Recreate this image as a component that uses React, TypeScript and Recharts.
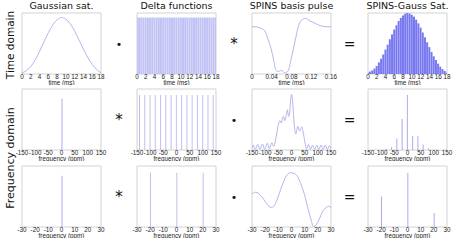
import { ComposedChart, Line, Bar, XAxis, YAxis, ReferenceArea } from 'recharts'

// tick labels
const timeTicks = [0, 2, 4, 6, 8, 10, 12, 14, 16, 18]
const spinsTimeTicks = [0, 0.04, 0.08, 0.12, 0.16]
const wideFreqTicks = [-150, -100, -50, 0, 50, 100, 150]
const narrowFreqTicks = [-30, -20, -10, 0, 10, 20, 30]

// row 1: time domain
const gaussTime = [0, 1, 2, 3, 4, 5, 6, 7, 8, 9, 10, 11, 12, 13, 14, 15, 16, 17, 18]
const gaussAmp = [0.02, 0.06, 0.13, 0.25, 0.4, 0.57, 0.73, 0.87, 0.96, 1.0, 0.97, 0.89, 0.76, 0.6, 0.44, 0.29, 0.17, 0.08, 0.02]

const deltaTime = [
  0, 0.5, 1, 1.5, 2, 2.5, 3, 3.5, 4, 4.5, 5, 5.5, 6, 6.5, 7, 7.5, 8, 8.5, 9,
  9.5, 10, 10.5, 11, 11.5, 12, 12.5, 13, 13.5, 14, 14.5, 15, 15.5, 16, 16.5, 17, 17.5, 18,
]
const deltaAmp = [
  1, 1, 1, 1, 1, 1, 1, 1, 1, 1, 1, 1, 1, 1, 1, 1, 1, 1, 1,
  1, 1, 1, 1, 1, 1, 1, 1, 1, 1, 1, 1, 1, 1, 1, 1, 1, 1,
]

const spinsTime = [
  0, 0.008, 0.016, 0.026, 0.032, 0.039, 0.044, 0.048, 0.053, 0.056, 0.06, 0.066,
  0.073, 0.08, 0.087, 0.094, 0.1, 0.109, 0.117, 0.127, 0.138, 0.151, 0.16,
]
const spinsAmp = [
  0.77, 0.77, 0.75, 0.7, 0.57, 0.39, 0.21, 0.05, 0.02, 0.03, 0.04, 0.0,
  0.03, 0.26, 0.52, 0.78, 0.88, 0.91, 0.87, 0.83, 0.79, 0.77, 0.77,
]

const trainAmp = [
  0.02, 0.04, 0.06, 0.09, 0.13, 0.19, 0.25, 0.32, 0.4, 0.48, 0.57, 0.65, 0.73, 0.8, 0.87, 0.92, 0.96, 0.99, 1.0,
  0.99, 0.97, 0.94, 0.89, 0.83, 0.76, 0.68, 0.6, 0.52, 0.44, 0.36, 0.29, 0.23, 0.17, 0.12, 0.08, 0.05, 0.02,
]

// row 2: frequency domain, wide view
const gaussSpecFreq = [0]
const gaussSpecAmp = [0.84]

const combWideFreq = [-140, -120, -100, -80, -60, -40, -20, 0, 20, 40, 60, 80, 100, 120, 140]
const combWideAmp = [0.9, 0.9, 0.9, 0.9, 0.9, 0.9, 0.9, 0.9, 0.9, 0.9, 0.9, 0.9, 0.9, 0.9, 0.9]

const spinsWideFreq = [
  -150, -145, -138, -128, -120, -110, -102, -92, -84, -75, -68, -61, -55, -48, -44, -39, -34, -30,
  -26, -21, -16, -11, -7, -3, 0, 3, 7, 11, 16, 20, 24, 28, 31, 35, 39, 44, 50, 57,
  65, 72, 80, 88, 96, 104, 112, 120, 128, 136, 144, 150,
]
const spinsWideAmp = [
  0.02, 0.08, 0.01, 0.09, 0.01, 0.1, 0.01, 0.11, 0.02, 0.12, 0.06, 0.15, 0.3, 0.45, 0.48, 0.44, 0.53, 0.55,
  0.48, 0.55, 0.66, 0.55, 0.62, 0.82, 0.91, 0.86, 0.62, 0.4, 0.26, 0.32, 0.39, 0.34, 0.31, 0.35, 0.38, 0.3, 0.15, 0.02,
  0.09, 0.01, 0.08, 0.01, 0.08, 0.01, 0.08, 0.01, 0.08, 0.01, 0.07, 0.02,
]

const trainWideFreq = [-80, -60, -40, -20, 0, 20, 40, 60, 80]
const trainWideAmp = [0.02, 0.05, 0.19, 0.51, 0.9, 0.23, 0.23, 0.09, 0.03]

// row 3: frequency domain, narrow view
const combNarrowFreq = [-20, 0, 20]
const combNarrowAmp = [0.89, 0.89, 0.89]

const spinsNarrowFreq = [
  -30, -27.4, -24.9, -22.3, -19.8, -17.2, -15.2, -13.4, -10.9, -8.3, -5.7, -3.2, -0.6,
  1.9, 4.5, 7, 9.6, 12.1, 14.7, 16.7, 18.5, 21.1, 23.6, 26.2, 28.2, 30,
]
const spinsNarrowAmp = [
  0.54, 0.57, 0.55, 0.49, 0.41, 0.34, 0.32, 0.34, 0.45, 0.61, 0.76, 0.86, 0.89,
  0.88, 0.83, 0.71, 0.55, 0.34, 0.13, 0.01, 0.03, 0.13, 0.25, 0.32, 0.34, 0.32,
]

const trainNarrowFreq = [-20, 0, 20]
const trainNarrowAmp = [0.5, 0.89, 0.23]

const zip = (xs: number[], ys: number[]) => xs.map((x, i) => ({ x, y: ys[i] }))

const LINE = '#acacea'
const FILL = '#7878f0'
const BOX = '#d2d2d2'
const TEXT = '#222'

const COLS = [22, 137, 252, 368]
const ROWS = [13, 89, 166]
const PW = 79
const PH = 61
const PAD = 10

type PanelProps = {
  col: number
  row: number
  data: { x: number; y: number }[]
  kind: 'line' | 'bar'
  xDomain: [number, number]
  yDomain: [number, number]
  ticks: number[]
  xLabel: string
  color?: string
  barSize?: number
}

const Panel = ({ col, row, data, kind, xDomain, yDomain, ticks, xLabel, color = LINE, barSize = 1 }: PanelProps) => (
  <div style={{ position: 'absolute', left: COLS[col] - PAD, top: ROWS[row] - 2 }}>
    <ComposedChart width={PW + PAD * 2} height={PH + 2 + 11} data={data} margin={{ top: 2, right: PAD, bottom: 0, left: PAD }}>
      <XAxis
        type="number"
        dataKey="x"
        domain={xDomain}
        ticks={ticks}
        interval={0}
        allowDataOverflow
        axisLine={false}
        tickLine={false}
        tickSize={0}
        tickMargin={1}
        height={11}
        tick={{ fontSize: 6.3, fill: TEXT, fontFamily: 'Liberation Sans' }}
        label={{ value: xLabel, position: 'insideBottom', offset: 0, fontSize: 6.3, fill: TEXT, fontFamily: 'Liberation Sans' }}
      />
      <YAxis hide type="number" domain={yDomain} allowDataOverflow />
      <ReferenceArea x1={xDomain[0]} x2={xDomain[1]} y1={yDomain[0]} y2={yDomain[1]} fill="none" stroke={BOX} strokeWidth={1} />
      {kind === 'line' ? (
        <Line type="monotone" dataKey="y" stroke={color} strokeWidth={0.9} dot={false} isAnimationActive={false} />
      ) : (
        <Bar dataKey="y" fill={color} barSize={barSize} isAnimationActive={false} />
      )}
    </ComposedChart>
  </div>
)

const Txt = ({ x, y, size, children, rotate = false, family = 'DejaVu Sans' }: any) => (
  <div
    style={{
      position: 'absolute',
      left: x,
      top: y,
      transform: `translate(-50%, -50%)${rotate ? ' rotate(-90deg)' : ''}`,
      fontSize: size,
      fontFamily: family,
      color: '#111',
      whiteSpace: 'nowrap',
      lineHeight: 1,
    }}
  >
    {children}
  </div>
)

const centerX = (c: number) => COLS[c] + PW / 2
const centerY = (r: number) => ROWS[r] + PH / 2
const opX = (c: number) => (COLS[c] + PW + COLS[c + 1]) / 2

export default function App() {
  const t = 'time (ms)'
  const f = 'frequency (ppm)'
  return (
    <div style={{ position: 'absolute', left: 0, top: 0, width: 454, height: 241, background: '#fff', overflow: 'hidden' }}>
      <Txt x={centerX(0)} y={6} size={9.5}>Gaussian sat.</Txt>
      <Txt x={centerX(1)} y={6} size={9.5}>Delta functions</Txt>
      <Txt x={centerX(2)} y={6} size={9.5}>SPINS basis pulse</Txt>
      <Txt x={centerX(3)} y={6} size={9.5}>SPINS-Gauss Sat.</Txt>
      <Txt x={10} y={45} size={10.5} rotate>Time domain</Txt>
      <Txt x={10} y={158} size={11} rotate>Frequency domain</Txt>

      <Panel col={0} row={0} kind="line" data={zip(gaussTime, gaussAmp)} xDomain={[0, 18]} yDomain={[0, 1.08]} ticks={timeTicks} xLabel={t} />
      <Panel col={1} row={0} kind="bar" data={zip(deltaTime, deltaAmp)} xDomain={[0, 18]} yDomain={[0, 1.08]} ticks={timeTicks} xLabel={t} color="#c2c2f4" barSize={2} />
      <Panel col={2} row={0} kind="line" data={zip(spinsTime, spinsAmp)} xDomain={[0, 0.16]} yDomain={[-0.02, 1.0]} ticks={spinsTimeTicks} xLabel={t} />
      <Panel col={3} row={0} kind="bar" data={zip(deltaTime, trainAmp)} xDomain={[0, 18]} yDomain={[0, 1.0]} ticks={timeTicks} xLabel={t} color={FILL} barSize={2} />

      <Panel col={0} row={1} kind="bar" data={zip(gaussSpecFreq, gaussSpecAmp)} xDomain={[-150, 150]} yDomain={[0, 1]} ticks={wideFreqTicks} xLabel={f} />
      <Panel col={1} row={1} kind="bar" data={zip(combWideFreq, combWideAmp)} xDomain={[-150, 150]} yDomain={[0, 1]} ticks={wideFreqTicks} xLabel={f} color="#c0c0ee" />
      <Panel col={2} row={1} kind="line" data={zip(spinsWideFreq, spinsWideAmp)} xDomain={[-150, 150]} yDomain={[0, 1]} ticks={wideFreqTicks} xLabel={f} />
      <Panel col={3} row={1} kind="bar" data={zip(trainWideFreq, trainWideAmp)} xDomain={[-150, 150]} yDomain={[0, 1]} ticks={wideFreqTicks} xLabel={f} />

      <Panel col={0} row={2} kind="bar" data={zip(gaussSpecFreq, gaussSpecAmp)} xDomain={[-30, 30]} yDomain={[0, 1]} ticks={narrowFreqTicks} xLabel={f} />
      <Panel col={1} row={2} kind="bar" data={zip(combNarrowFreq, combNarrowAmp)} xDomain={[-30, 30]} yDomain={[0, 1]} ticks={narrowFreqTicks} xLabel={f} color="#c0c0ee" />
      <Panel col={2} row={2} kind="line" data={zip(spinsNarrowFreq, spinsNarrowAmp)} xDomain={[-30, 30]} yDomain={[0, 1]} ticks={narrowFreqTicks} xLabel={f} />
      <Panel col={3} row={2} kind="bar" data={zip(trainNarrowFreq, trainNarrowAmp)} xDomain={[-30, 30]} yDomain={[0, 1]} ticks={narrowFreqTicks} xLabel={f} />

      <Txt x={opX(0)} y={centerY(0)} size={11}>•</Txt>
      <Txt x={opX(1)} y={centerY(0)} size={15}>*</Txt>
      <Txt x={opX(2)} y={centerY(0)} size={14}>=</Txt>
      <Txt x={opX(0)} y={centerY(1)} size={15}>*</Txt>
      <Txt x={opX(1)} y={centerY(1)} size={11}>•</Txt>
      <Txt x={opX(2)} y={centerY(1)} size={14}>=</Txt>
      <Txt x={opX(0)} y={centerY(2)} size={15}>*</Txt>
      <Txt x={opX(1)} y={centerY(2)} size={11}>•</Txt>
      <Txt x={opX(2)} y={centerY(2)} size={14}>=</Txt>
    </div>
  )
}
